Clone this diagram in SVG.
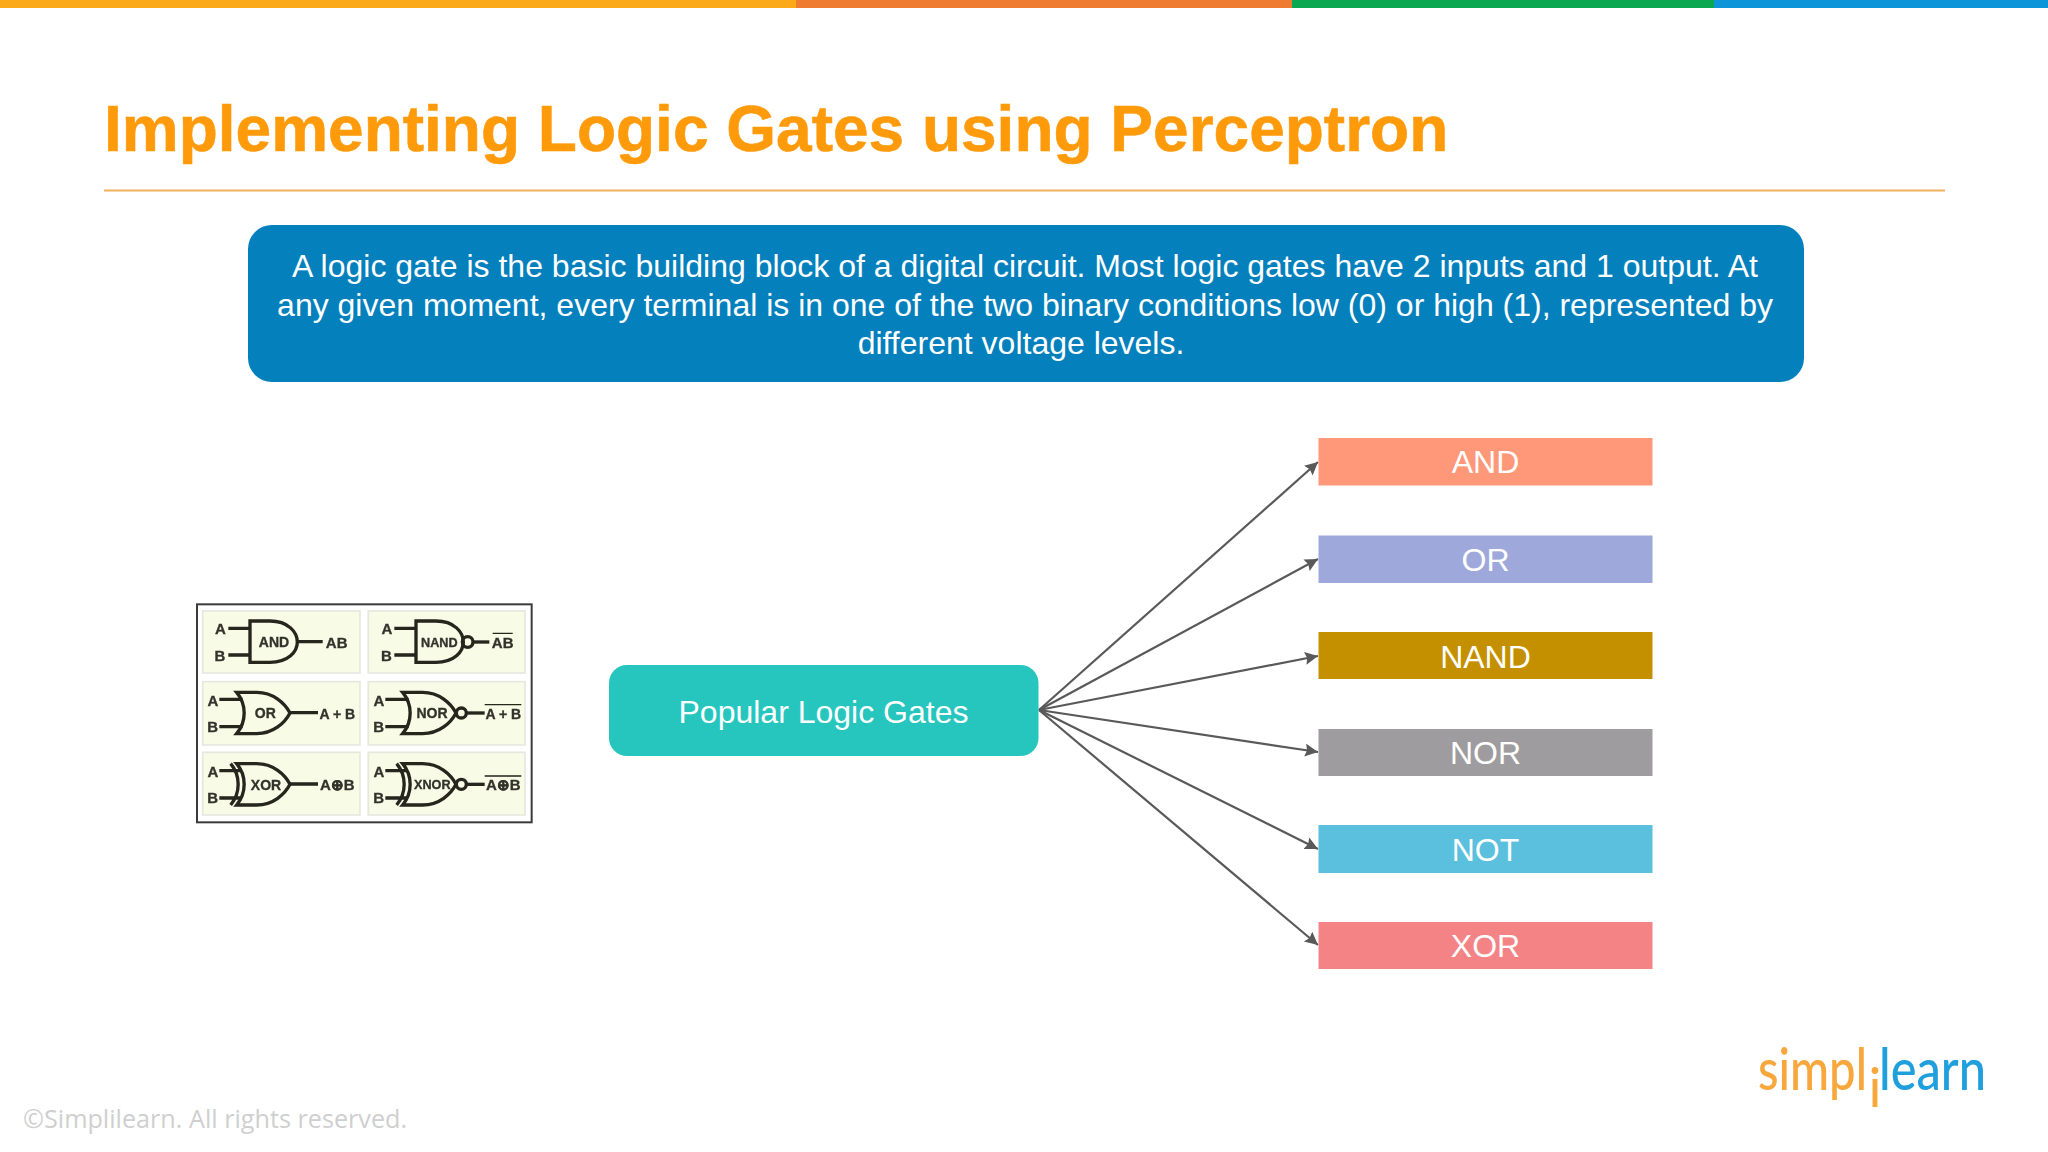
<svg xmlns="http://www.w3.org/2000/svg" width="2048" height="1152" viewBox="0 0 2048 1152">
<style>
.s{font-family:"Liberation Sans",Arial,sans-serif}
.lb{font-family:"Liberation Sans",Arial,sans-serif;font-size:32px;fill:#fff;text-anchor:middle}
.c{fill:none;stroke:#595959;stroke-width:2.2;marker-end:url(#ah)}
.cell{fill:#f8fbe6;stroke:#e6e8e0;stroke-width:5}
.g{fill:none;stroke:#25251e;stroke-width:10}
.t{font-family:"Liberation Sans",Arial,sans-serif;font-weight:bold;fill:#33332c;stroke:#33332c;stroke-width:1;text-anchor:middle}
.t1{font-size:45px}
.t2{font-size:42px}
.t3{font-size:38px}
</style>
<defs>
<marker id="ah" markerUnits="userSpaceOnUse" markerWidth="14" markerHeight="14" refX="13" refY="6.5" orient="auto"><path d="M0,0L13,6.5L0,13L2,6.5Z" fill="#595959"/></marker>
<filter id="soft" x="-2%" y="-2%" width="104%" height="104%"><feGaussianBlur stdDeviation="0.6"/></filter>
<path id="andb" d="M180,78H240C295,78 322,112 322,141C322,170 295,202 240,202H180Z"/>
<path id="orb" d="M140,292H200C250,292 285,325 300,354C285,383 250,416 200,416H140C170,380 170,328 140,292Z"/>
</defs>
<rect width="2048" height="1152" fill="#fff"/>
<g id="top-bar">
<rect x="0" y="0" width="796" height="8" fill="#FBA919"/>
<rect x="796" y="0" width="496" height="8" fill="#EE7B30"/>
<rect x="1292" y="0" width="422" height="8" fill="#0BA750"/>
<rect x="1714" y="0" width="334" height="8" fill="#0C95D8"/>
</g>
<text id="title" class="s" x="104" y="151" font-size="64" font-weight="bold" fill="#FF9A0A" stroke="#FF9A0A" stroke-width="0.6">Implementing Logic Gates using Perceptron</text>
<line x1="104" y1="190.500" x2="1945" y2="190.500" stroke="#EFB25A" stroke-width="2"/>
<g id="intro">
<rect x="248" y="225" width="1556" height="157" rx="24" fill="#0480BC"/>
<text class="lb" x="1025" y="277">A logic gate is the basic building block of a digital circuit. Most logic gates have 2 inputs and 1 output. At</text>
<text class="lb" x="1025" y="316">any given moment, every terminal is in one of the two binary conditions low (0) or high (1), represented by</text>
<text class="lb" x="1021" y="354">different voltage levels.</text>
</g>
<g id="gates-image" filter="url(#soft)" transform="translate(190,595) scale(0.33333)">
<rect x="21" y="28" width="1004" height="654" fill="#fff" stroke="#3a3a3a" stroke-width="6"/>
<rect class="cell" x="38" y="48" width="472" height="186"/><rect class="cell" x="535" y="48" width="470" height="186"/>
<rect class="cell" x="38" y="260" width="472" height="190"/><rect class="cell" x="535" y="260" width="470" height="190"/>
<rect class="cell" x="38" y="472" width="472" height="188"/><rect class="cell" x="535" y="472" width="470" height="188"/>
<g class="g">
<use href="#andb"/><path d="M115,100H180M115,180H180M322,140H398"/>
<g transform="translate(498,0)"><use href="#andb"/><path d="M115,100H180M115,180H180"/><circle cx="335" cy="141" r="16"/><path d="M351,141H400"/></g>
<use href="#orb"/><path d="M88,313H158M88,395H158M300,353H384"/>
<g transform="translate(498,0)"><use href="#orb"/><path d="M88,313H158M88,395H158"/><circle cx="316" cy="354" r="15"/><path d="M331,354H386"/></g>
<g transform="translate(0,214)"><use href="#orb"/><path d="M88,313H150M88,395H150M300,353H384M122,292C152,328 152,380 122,416"/></g>
<g transform="translate(498,214)"><use href="#orb"/><path d="M88,313H150M88,395H150M122,292C152,328 152,380 122,416"/><circle cx="316" cy="354" r="15"/><path d="M331,354H386"/></g>
<path d="M908,115H968M884,329H994M884,543H994" stroke-width="4"/>
</g>
<text class="t t1" x="91" y="118">A</text><text class="t t1" x="90" y="198">B</text><text class="t t2" x="252" y="156">AND</text><text class="t t1" x="440" y="158">AB</text>
<text class="t t1" x="591" y="118">A</text><text class="t t1" x="589" y="198">B</text><text class="t t3" x="748" y="155">NAND</text><text class="t t1" x="938" y="158">AB</text>
<text class="t t1" x="69" y="333">A</text><text class="t t1" x="68" y="411">B</text><text class="t t2" x="226" y="370">OR</text><text class="t t2" x="442" y="371">A + B</text>
<text class="t t1" x="567" y="333">A</text><text class="t t1" x="566" y="411">B</text><text class="t t2" x="726" y="370">NOR</text><text class="t t2" x="940" y="371">A + B</text>
<text class="t t1" x="69" y="547">A</text><text class="t t1" x="68" y="625">B</text><text class="t t2" x="228" y="585">XOR</text><text class="t t1" x="442" y="585">A⊕B</text>
<text class="t t1" x="567" y="547">A</text><text class="t t1" x="566" y="625">B</text><text class="t t3" x="727" y="583">XNOR</text><text class="t t1" x="940" y="585">A⊕B</text>
</g>
<g id="connectors">
<line class="c" x1="1039" y1="710" x2="1318" y2="462"/>
<line class="c" x1="1039" y1="710" x2="1318" y2="559"/>
<line class="c" x1="1039" y1="710" x2="1318" y2="656"/>
<line class="c" x1="1039" y1="710" x2="1318" y2="752"/>
<line class="c" x1="1039" y1="710" x2="1318" y2="849"/>
<line class="c" x1="1039" y1="710" x2="1318" y2="945"/>
</g>
<g id="popular"><rect x="609" y="665" width="429.500" height="91" rx="18" fill="#26C6BF"/><text class="lb" x="823.500" y="722.500">Popular Logic Gates</text></g>
<g id="and"><rect x="1318.500" y="438" width="334" height="47.500" fill="#FF9779"/><text class="lb" x="1485.500" y="473">AND</text></g>
<g id="or"><rect x="1318.500" y="535.500" width="334" height="47.500" fill="#9FA8DA"/><text class="lb" x="1485.500" y="571">OR</text></g>
<g id="nand"><rect x="1318.500" y="632" width="334" height="47" fill="#C49000"/><text class="lb" x="1485.500" y="667.500">NAND</text></g>
<g id="nor"><rect x="1318.500" y="729" width="334" height="47" fill="#9E9C9E"/><text class="lb" x="1485.500" y="764">NOR</text></g>
<g id="not"><rect x="1318.500" y="825" width="334" height="48" fill="#5BC0DE"/><text class="lb" x="1485.500" y="861">NOT</text></g>
<g id="xor"><rect x="1318.500" y="922" width="334" height="47" fill="#F48385"/><text class="lb" x="1485.500" y="957">XOR</text></g>
<g id="logo" font-family="Lato,sans-serif">
<text x="1758" y="1090" font-size="58" font-weight="500" fill="#F8A73D" textLength="109" lengthAdjust="spacingAndGlyphs">simpl</text>
<text x="1868.500" y="1107" font-size="54" fill="#F8A73D">i</text>
<text x="1879" y="1090" font-size="58" font-weight="500" fill="#1FA0DC" textLength="107" lengthAdjust="spacingAndGlyphs">learn</text>
</g>
<text id="copyright" x="23" y="1128" font-family="Open Sans,sans-serif" font-size="25.200" fill="#CFCFCF">©Simplilearn. All rights reserved.</text>
</svg>
